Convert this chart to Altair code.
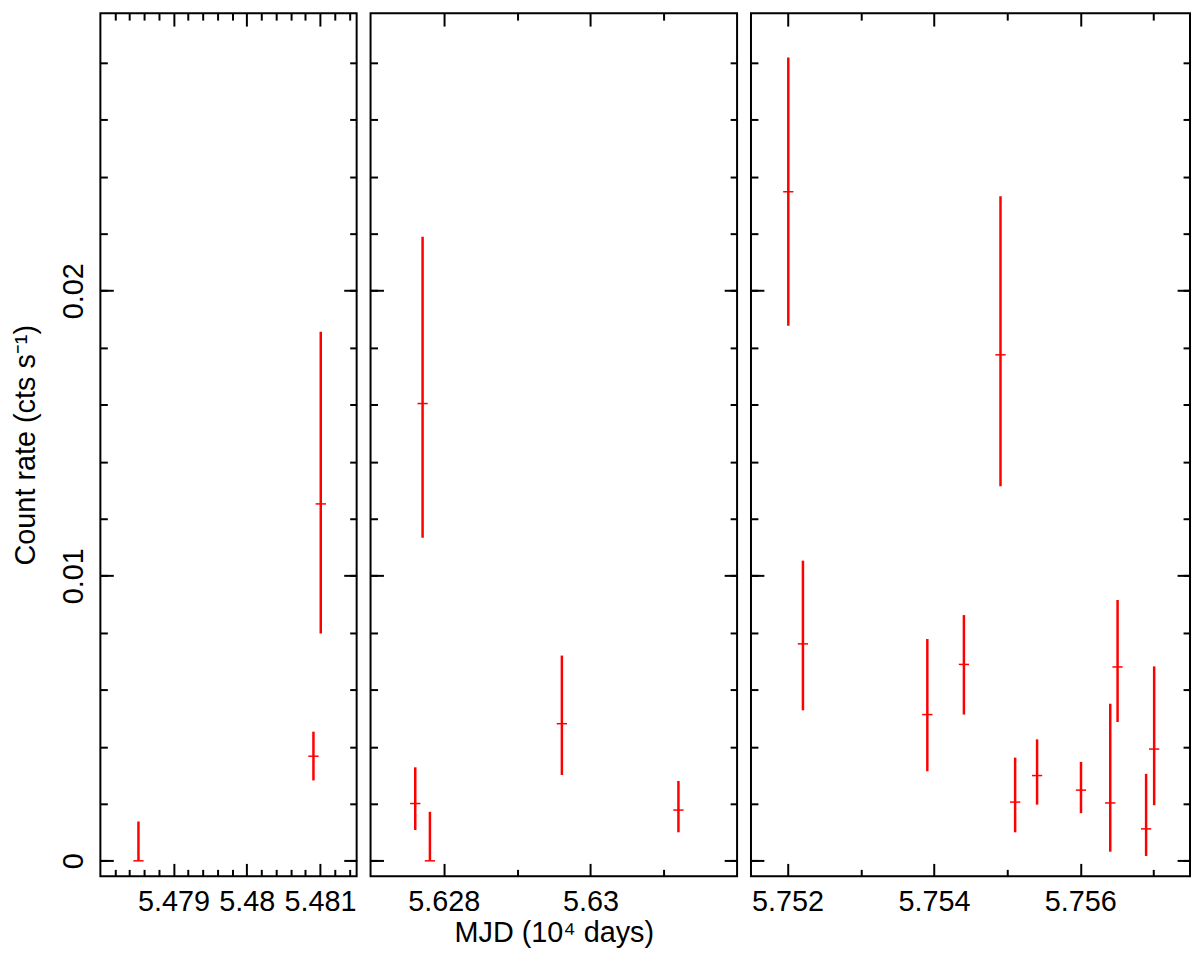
import altair as alt
import pandas as pd

# ---------------- data ----------------
# Panel 1
p1_mjd = [5.47852, 5.48091, 5.48101]
p1_rate = [0.0, 0.00367, 0.01252]
p1_lo = [0.0, 0.00282, 0.00797]
p1_hi = [0.00138, 0.00453, 0.01856]

# Panel 2
p2_mjd = [5.62761, 5.62771, 5.62781, 5.62961, 5.63120]
p2_rate = [0.00201, 0.01604, 0.0, 0.00481, 0.00178]
p2_lo = [0.00108, 0.01133, 0.0, 0.00301, 0.00100]
p2_hi = [0.00328, 0.02189, 0.00172, 0.00720, 0.00280]

# Panel 3
p3_mjd = [5.75201, 5.75221, 5.75391, 5.75441, 5.75491, 5.75511,
          5.75541, 5.75601, 5.75641, 5.75651, 5.75690, 5.75701]
p3_rate = [0.02347, 0.00761, 0.00513, 0.00689, 0.01775, 0.00206,
           0.00299, 0.00248, 0.00203, 0.00680, 0.00112, 0.00392]
p3_lo = [0.01877, 0.00528, 0.00314, 0.00513, 0.01314, 0.00100,
         0.00197, 0.00167, 0.00032, 0.00487, 0.00017, 0.00195]
p3_hi = [0.02818, 0.01053, 0.00778, 0.00862, 0.02331, 0.00362,
         0.00426, 0.00347, 0.00551, 0.00915, 0.00305, 0.00682]

x_half_width = 0.00007

# axes
y_domain = [-0.000544, 0.029735]
y_major = [0.0, 0.01, 0.02]
y_minor = [0.0, 0.002, 0.004, 0.006, 0.008, 0.010, 0.012, 0.014,
           0.016, 0.018, 0.020, 0.022, 0.024, 0.026, 0.028]

p1_domain = [5.478, 5.4815]
p1_major = [5.479, 5.480, 5.481]
p1_minor = [5.4782, 5.4784, 5.4786, 5.4788, 5.4792, 5.4794, 5.4796, 5.4798,
            5.4802, 5.4804, 5.4806, 5.4808, 5.4812, 5.4814]
p2_domain = [5.627, 5.632]
p2_major = [5.628, 5.630]
p2_minor = [5.629, 5.631]
p3_domain = [5.7515, 5.7575]
p3_major = [5.752, 5.754, 5.756]
p3_minor = [5.753, 5.755, 5.757]

H = 869
RED = "#ff0000"
FONT = "Liberation Sans"


def make_df(mjd, rate, lo, hi):
    return pd.DataFrame({
        "mjd": mjd, "rate": rate, "lo": lo, "hi": hi,
        "xlo": [m - x_half_width for m in mjd],
        "xhi": [m + x_half_width for m in mjd],
    })


def tick_axis(orient, vals, size, offset):
    return alt.Axis(orient=orient, values=vals, tickSize=size, offset=offset,
                    labels=False, domain=False, grid=False, ticks=True,
                    title=None, tickColor="black", tickWidth=2)


def panel(df, xdom, w, xmaj, xmin, first, xtitle):
    xs = alt.Scale(domain=xdom, nice=False, zero=False)
    ys = alt.Scale(domain=y_domain, nice=False, zero=False)
    base = alt.Chart(df)

    if first:
        yaxis_lab = alt.Axis(orient="left", values=y_major, format="~g",
                             ticks=False, tickSize=0, labelAngle=270,
                             labelAlign="center", labelBaseline="alphabetic",
                             labelPadding=18, labelFlush=False,
                             labelOverlap=False,
                             title="Count rate (cts s⁻¹)", titlePadding=19)
    else:
        yaxis_lab = None

    xkw = dict(orient="bottom", values=xmaj, format=".4~f", ticks=False,
               tickSize=0, labelPadding=11, labelFlush=False,
               labelOverlap=False)
    if xtitle:
        xaxis_lab = alt.Axis(title=xtitle, titlePadding=3, **xkw)
    else:
        xaxis_lab = alt.Axis(title=None, **xkw)

    vert = base.mark_rule(color=RED, strokeWidth=2.5).encode(
        x=alt.X("mjd:Q", scale=xs, axis=xaxis_lab),
        y=alt.Y("lo:Q", scale=ys, axis=yaxis_lab),
        y2="hi:Q",
    )
    horiz = base.mark_rule(color=RED, strokeWidth=1.5).encode(
        x=alt.X("xlo:Q", scale=xs, axis=None),
        x2="xhi:Q",
        y=alt.Y("rate:Q", scale=ys, axis=None),
    )

    def tl(xaxis, yaxis):
        return base.mark_point(opacity=0).encode(
            x=alt.X("mjd:Q", scale=xs, axis=xaxis),
            y=alt.Y("rate:Q", scale=ys, axis=yaxis),
        )

    layers = [
        vert, horiz,
        tl(None, tick_axis("right", y_major, 13, -w)),
        tl(None, tick_axis("right", y_minor, 7, -w)),
        tl(None, tick_axis("left", y_major, 13, -w)),
        tl(None, tick_axis("left", y_minor, 7, -w)),
        tl(tick_axis("top", xmaj, 13, -H), None),
        tl(tick_axis("top", xmin, 7, -H), None),
        tl(tick_axis("bottom", xmaj, 13, -H), None),
        tl(tick_axis("bottom", xmin, 7, -H), None),
    ]
    return alt.layer(*layers).resolve_axis(x="independent", y="independent").properties(width=w, height=H)


c1 = panel(make_df(p1_mjd, p1_rate, p1_lo, p1_hi), p1_domain, 258, p1_major, p1_minor, True, None)
c2 = panel(make_df(p2_mjd, p2_rate, p2_lo, p2_hi), p2_domain, 369, p2_major, p2_minor, False, "MJD (10⁴ days)")
c3 = panel(make_df(p3_mjd, p3_rate, p3_lo, p3_hi), p3_domain, 442, p3_major, p3_minor, False, None)

chart = alt.hconcat(c1, c2, c3, spacing=14, bounds="flush").properties(
    padding={"left": 3, "top": 0, "right": 0, "bottom": 0}
).configure_view(
    stroke="black", strokeWidth=2
).configure_axis(
    labelFont=FONT, titleFont=FONT, labelFontSize=29, titleFontSize=29,
    titleFontWeight="normal", labelColor="black", titleColor="black",
    grid=False, domain=False
)

chart.save("out.html", embed_options={"renderer": "svg", "actions": False})
